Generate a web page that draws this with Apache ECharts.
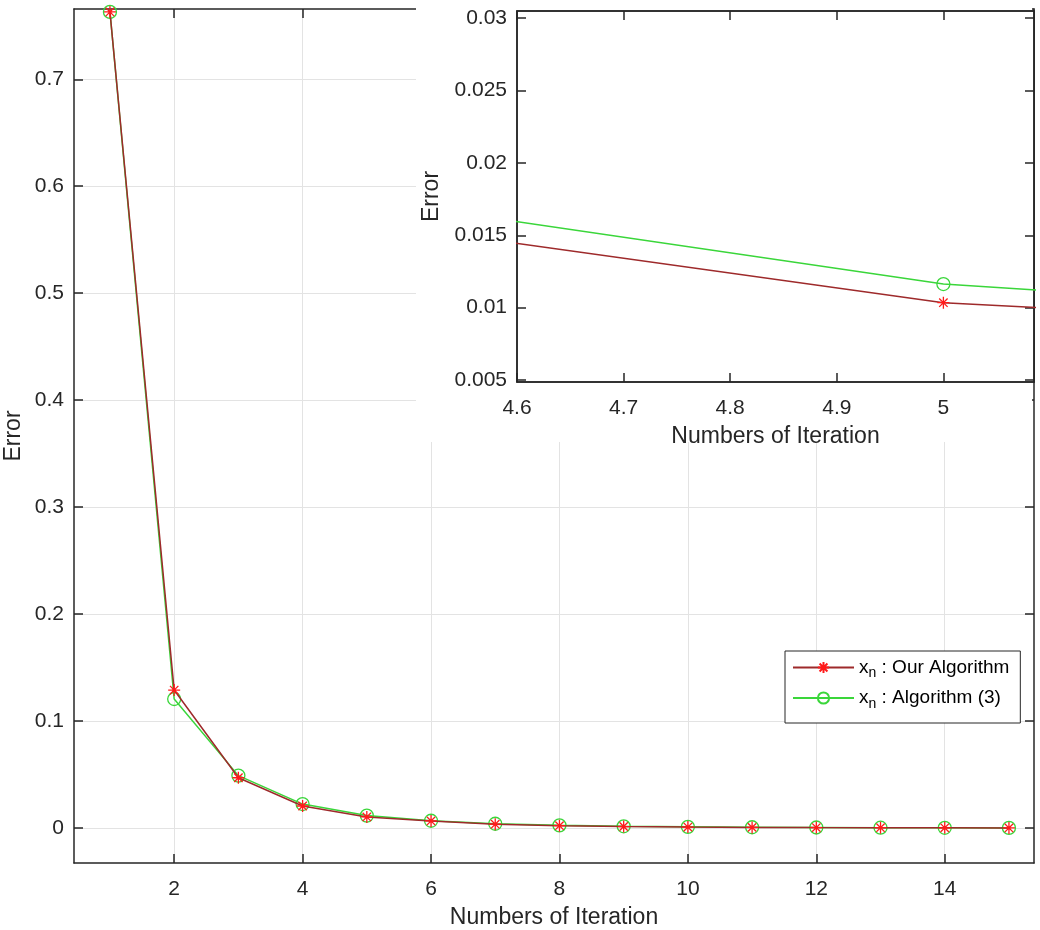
<!DOCTYPE html>
<html>
<head>
<meta charset="utf-8">
<script src="https://cdn.jsdelivr.net/npm/echarts@6/dist/echarts.min.js"></script>
<style>html,body{margin:0;padding:0;background:#fff}#c{width:1040px;height:930px}</style>
</head>
<body>
<div id="c"></div>
<script>
// ---- data ----
const iterations = [1,2,3,4,5,6,7,8,9,10,11,12,13,14,15];
const ourAlgorithm = [0.763,0.129,0.047,0.0206,0.01034,0.0066,0.0036,0.0022,0.0014,0.0009,0.0006,0.0004,0.0003,0.0002,0.0001];
const algorithm3  = [0.763,0.1206,0.049,0.0224,0.01163,0.0068,0.0040,0.0025,0.0016,0.0011,0.0007,0.0005,0.0003,0.0002,0.0001];
const seriesNames = ['Our Algorithm','Algorithm (3)'];
const mainXTicks = [2,4,6,8,10,12,14];
const mainYTicks = [0,0.1,0.2,0.3,0.4,0.5,0.6,0.7];
const insetXTicks = [4.6,4.7,4.8,4.9,5];
const insetYTicks = [0.005,0.01,0.015,0.02,0.025,0.03];
const mainXRange = [0.44,15.39];
const mainYRange = [-0.0327,0.7657];
const insetXRange = [4.6,5.085];
const insetYRange = [0.00486,0.0305];
const xTitle = 'Numbers of Iteration';
const yTitle = 'Error';

const FONT = '"Liberation Sans", Arial, sans-serif';
const TXT = '#262626';
const AX = '#262626';
const GRIDC = '#e3e3e3';
const RED_LINE = '#9e2a2b';
const RED_MK = '#ff1a1a';
const GREEN = '#3ad63a';
const ASTER = 'path://M0,-10L0,10M-10,0L10,0M-7,-7L7,7M-7,7L7,-7';

const pairs = arr => iterations.map((x,i)=>[x,arr[i]]);
const fmt = v => String(+v.toFixed(4));

function xAx(gi, range, ticks, opts) {
  return Object.assign({
    type:'value', gridIndex:gi, min:range[0], max:range[1], nameMoveOverlap:false,
    axisLine:{show:true,onZero:false,lineStyle:{color:AX,width:1.5}},
    axisTick:{show:true,inside:true,length:9,customValues:ticks,lineStyle:{color:AX,width:1.5}},
    axisLabel:{show:true,customValues:ticks,formatter:fmt,color:TXT,fontSize:21,fontFamily:FONT,margin:16},
    splitLine:{show:false}
  }, opts||{});
}
function yAx(gi, range, ticks, opts) {
  return Object.assign({
    type:'value', gridIndex:gi, min:range[0], max:range[1], nameMoveOverlap:false,
    axisLine:{show:true,onZero:false,lineStyle:{color:AX,width:1.5}},
    axisTick:{show:true,inside:true,length:9,customValues:ticks,lineStyle:{color:AX,width:1.5}},
    axisLabel:{show:true,customValues:ticks,formatter:fmt,color:TXT,fontSize:21,fontFamily:FONT,margin:10},
    splitLine:{show:false}
  }, opts||{});
}
const nameStyle = {color:TXT,fontSize:23,fontFamily:FONT};

const chart = echarts.init(document.getElementById('c'), null, {renderer:'canvas'});
const option = {
  backgroundColor:'#fff',
  animation:false,
  grid:[
    {left:74,top:9,right:6,bottom:67,show:false,outerBoundsMode:'none',containLabel:false},
    {left:517,top:11,right:6,bottom:548,show:true,borderColor:AX,borderWidth:1.5,backgroundColor:'#fff',z:20,outerBoundsMode:'none',containLabel:false}
  ],
  xAxis:[
    xAx(0,mainXRange,mainXTicks,{position:'bottom',name:xTitle,nameLocation:'middle',nameGap:43,nameTextStyle:nameStyle,
      splitLine:{show:true,lineStyle:{color:GRIDC,width:1}}}),
    xAx(0,mainXRange,mainXTicks,{position:'top',axisLabel:{show:false,customValues:mainXTicks}}),
    xAx(1,insetXRange,insetXTicks,{position:'bottom',z:21,name:xTitle,nameLocation:'middle',nameGap:43,nameTextStyle:nameStyle}),
    xAx(1,insetXRange,insetXTicks,{position:'top',z:21,axisLabel:{show:false,customValues:insetXTicks}})
  ],
  yAxis:[
    yAx(0,mainYRange,mainYTicks,{position:'left',name:yTitle,nameLocation:'middle',nameGap:49,nameTextStyle:nameStyle,
      splitLine:{show:true,lineStyle:{color:GRIDC,width:1}}}),
    yAx(0,mainYRange,mainYTicks,{position:'right',axisLabel:{show:false,customValues:mainYTicks}}),
    yAx(1,insetYRange,insetYTicks,{position:'left',z:21,name:yTitle,nameLocation:'middle',nameGap:74,nameTextStyle:nameStyle}),
    yAx(1,insetYRange,insetYTicks,{position:'right',z:21,axisLabel:{show:false,customValues:insetYTicks}})
  ],
  graphic:[
    {type:'rect',z:10,shape:{x:416,y:0,width:616,height:442},style:{fill:'#fff'}}
  ],
  legend:{
    show:true, orient:'vertical', left:785, top:651,
    data:seriesNames,
    itemWidth:61, itemHeight:14, itemGap:8,
    padding:[7,11,12,7],
    borderColor:AX, borderWidth:1, backgroundColor:'#fff', z:30,
    formatter: name => '{x|x}{n|n}{t| : ' + name + '}',
    textStyle:{color:'#000',fontFamily:FONT,fontSize:19,
      rich:{x:{fontSize:19,fontFamily:FONT,color:'#000'},n:{fontSize:14,fontFamily:FONT,color:'#000',padding:[12,0,0,0]},t:{fontSize:19,fontFamily:FONT,color:'#000'}}}
  },
  series:[
    {name:seriesNames[0],type:'line',xAxisIndex:0,yAxisIndex:0,data:pairs(ourAlgorithm),
      symbol:ASTER,symbolSize:12,showAllSymbol:true,
      lineStyle:{color:RED_LINE,width:1.5},itemStyle:{color:RED_MK,borderColor:RED_MK,borderWidth:1.3},z:3},
    {name:seriesNames[1],type:'line',xAxisIndex:0,yAxisIndex:0,data:pairs(algorithm3),
      symbol:'circle',symbolSize:13,showAllSymbol:true,
      lineStyle:{color:GREEN,width:1.5},itemStyle:{color:'rgba(0,0,0,0)',borderColor:GREEN,borderWidth:1.3},z:2},
    {name:seriesNames[0],type:'line',xAxisIndex:2,yAxisIndex:2,data:pairs(ourAlgorithm),clip:true,
      symbol:ASTER,symbolSize:12,showAllSymbol:true,
      lineStyle:{color:RED_LINE,width:1.5},itemStyle:{color:RED_MK,borderColor:RED_MK,borderWidth:1.3},z:22},
    {name:seriesNames[1],type:'line',xAxisIndex:2,yAxisIndex:2,data:pairs(algorithm3),clip:true,
      symbol:'circle',symbolSize:13,showAllSymbol:true,
      lineStyle:{color:GREEN,width:1.5},itemStyle:{color:'rgba(0,0,0,0)',borderColor:GREEN,borderWidth:1.3},z:22}
  ]
};
chart.setOption(option);
</script>
</body>
</html>
